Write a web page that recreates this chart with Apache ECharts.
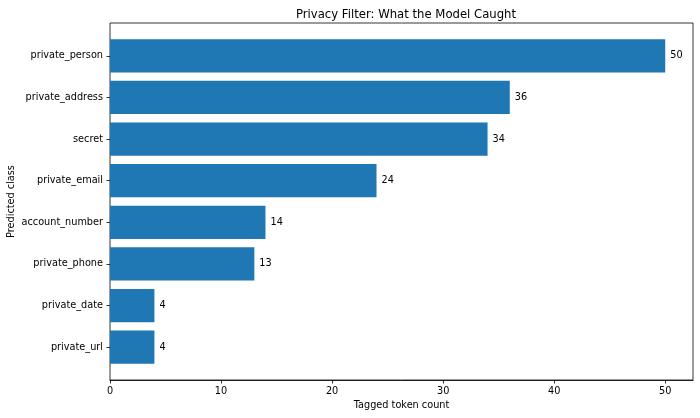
<!DOCTYPE html>
<html>
<head>
  <meta charset="utf8">
  <script src="https://cdn.jsdelivr.net/npm/echarts@6/dist/echarts.min.js"></script>
  <style>
    html, body { margin: 0; padding: 0; background: #fff; }
    #main { width: 700px; height: 418px; }
  </style>
</head>
<body>
<div id="main"></div>
<script>
  // data
  var classes = ['private_person', 'private_address', 'secret', 'private_email',
                 'account_number', 'private_phone', 'private_date', 'private_url'];
  var counts = [50, 36, 34, 24, 14, 13, 4, 4];
  var xTicks = [0, 10, 20, 30, 40, 50];

  var font = 'DejaVu Sans';
  var chart = echarts.init(document.getElementById('main'));

  var option = {
    backgroundColor: '#fff',
    animation: false,
    title: {
      text: 'Privacy Filter: What the Model Caught',
      left: 401, top: 4, textAlign: 'center',
      textStyle: { fontFamily: font, fontSize: 11.67, fontWeight: 'normal', color: '#000' }
    },
    grid: [
      // bars (category band inset like matplotlib margins)
      { left: 110, right: 7, top: 35, bottom: 50,
        containLabel: false, outerBoundsMode: 'none' },
      // outer frame
      { left: 110, right: 7, top: 23, bottom: 38, show: true,
        containLabel: false, outerBoundsMode: 'none',
        borderColor: '#000', borderWidth: 0.8, backgroundColor: 'transparent' }
    ],
    xAxis: [
      {
        type: 'value', gridIndex: 0, min: 0, max: 52.5, interval: 10,
        offset: 12,
        splitLine: { show: false },
        axisLine: { show: true, lineStyle: { color: '#000', width: 0.8 } },
        axisTick: { show: true, length: 3.5, customValues: xTicks,
                    lineStyle: { color: '#000', width: 0.8 } },
        axisLabel: { customValues: xTicks, margin: 6, color: '#000',
                     fontFamily: font, fontSize: 9.72 },
        name: 'Tagged token count', nameLocation: 'middle', nameGap: 20,
        nameMoveOverlap: false,
        nameTextStyle: { fontFamily: font, fontSize: 9.72, color: '#000' }
      },
      { type: 'value', gridIndex: 1, show: false, min: 0, max: 1 }
    ],
    yAxis: [
      {
        type: 'category', gridIndex: 0, data: classes, inverse: true,
        axisLine: { show: false },
        axisTick: { show: true, length: 3.5, alignWithLabel: true,
                    lineStyle: { color: '#000', width: 0.8 } },
        axisLabel: { margin: 7, color: '#000', fontFamily: font, fontSize: 9.72 },
        name: 'Predicted class', nameLocation: 'middle', nameGap: 94,
        nameMoveOverlap: false,
        nameTextStyle: { fontFamily: font, fontSize: 9.72, color: '#000' }
      },
      { type: 'value', gridIndex: 1, show: false, min: 0, max: 1 }
    ],
    series: [{
      type: 'bar',
      xAxisIndex: 0, yAxisIndex: 0,
      data: counts,
      barCategoryGap: '20%',
      itemStyle: { color: '#1f77b4' },
      label: {
        show: true, position: 'right', distance: 5,
        color: '#000', fontFamily: font, fontSize: 9.72
      }
    }]
  };

  chart.setOption(option);
</script>
</body>
</html>
